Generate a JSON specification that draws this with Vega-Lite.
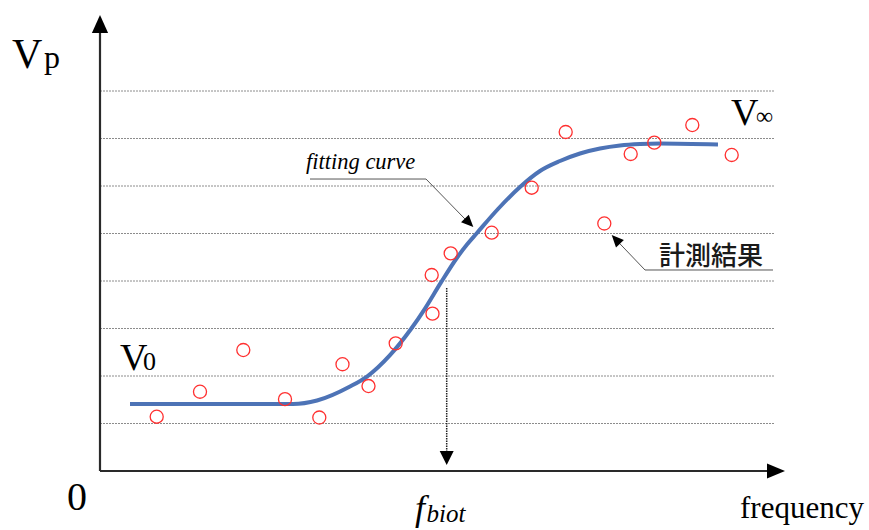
{
  "$schema": "https://vega.github.io/schema/vega-lite/v6.json",
  "width": 869,
  "height": 530,
  "autosize": {"type": "none"},
  "padding": 0,
  "background": "white",
  "config": {"view": {"stroke": null}},
  "datasets": {
    "grid": [{"level": 1}, {"level": 2}, {"level": 3}, {"level": 4}, {"level": 5}, {"level": 6}, {"level": 7}, {"level": 8}],
    "axes": [
      {"axis": "Vp", "x": 0, "y": 0, "x2": 0, "y2": 9.3},
      {"axis": "frequency", "x": 0, "y": 0, "x2": 67.6, "y2": 0}
    ],
    "curve": [
      {"f": 3.0, "v": 1.411}, {"f": 18.5, "v": 1.411}, {"f": 19.3, "v": 1.411}, {"f": 21.7, "v": 1.484},
      {"f": 25.0, "v": 1.779}, {"f": 26.7, "v": 1.989}, {"f": 29.0, "v": 2.44}, {"f": 31.1, "v": 2.99},
      {"f": 32.5, "v": 3.42}, {"f": 34.1, "v": 3.97}, {"f": 35.7, "v": 4.49}, {"f": 36.7, "v": 4.768},
      {"f": 37.7, "v": 5.011}, {"f": 39.8, "v": 5.516}, {"f": 42.0, "v": 5.979}, {"f": 44.0, "v": 6.316},
      {"f": 46.0, "v": 6.526}, {"f": 48.0, "v": 6.684}, {"f": 50.0, "v": 6.789}, {"f": 52.0, "v": 6.853},
      {"f": 54.0, "v": 6.884}, {"f": 56.0, "v": 6.895}, {"f": 61.8, "v": 6.874}
    ],
    "measured": [
      {"f": 5.67, "v": 1.143}, {"f": 10.0, "v": 1.669}, {"f": 14.33, "v": 2.547}, {"f": 18.5, "v": 1.512},
      {"f": 21.93, "v": 1.126}, {"f": 24.25, "v": 2.248}, {"f": 26.85, "v": 1.789}, {"f": 29.57, "v": 2.688},
      {"f": 33.25, "v": 3.312}, {"f": 33.17, "v": 4.126}, {"f": 35.07, "v": 4.583}, {"f": 39.17, "v": 5.017},
      {"f": 43.17, "v": 5.964}, {"f": 46.57, "v": 7.137}, {"f": 50.43, "v": 5.211}, {"f": 53.07, "v": 6.674},
      {"f": 55.43, "v": 6.912}, {"f": 59.23, "v": 7.284}, {"f": 63.17, "v": 6.653}
    ],
    "leaders": [
      {"leader": "fitting", "seq": 1, "x": 21.0, "y": 6.147},
      {"leader": "fitting", "seq": 2, "x": 32.6, "y": 6.147},
      {"leader": "fitting", "seq": 3, "x": 36.8, "y": 5.24},
      {"leader": "measured", "seq": 1, "x": 67.3, "y": 4.232},
      {"leader": "measured", "seq": 2, "x": 54.5, "y": 4.232},
      {"leader": "measured", "seq": 3, "x": 51.6, "y": 4.87}
    ],
    "biot": [{"f": 34.67, "top": 3.853, "bottom": 0.42, "tip": 0.126}],
    "heads": [
      {"head": "yaxis", "x": 0, "y": 9.6},
      {"head": "xaxis", "x": 68.5, "y": 0},
      {"head": "fitting", "x": 37.33, "y": 5.137},
      {"head": "measured", "x": 51.17, "y": 4.968}
    ],
    "labels": [
      {"role": "big", "text": "V", "x": -8.8, "y": 8.484},
      {"role": "p", "text": "p", "x": -5.6, "y": 8.484},
      {"role": "vmid", "text": "V", "x": 63.1, "y": 7.284},
      {"role": "inf", "text": "∞", "x": 65.6, "y": 7.305},
      {"role": "vmid", "text": "V", "x": 2.0, "y": 2.126},
      {"role": "zero", "text": "0", "x": 4.3, "y": 2.126},
      {"role": "origin", "text": "0", "x": -2.3, "y": -0.821},
      {"role": "freq", "text": "frequency", "x": 64.0, "y": -0.989},
      {"role": "fbig", "text": "f", "x": 31.5, "y": -1.032},
      {"role": "fsub", "text": "biot", "x": 32.65, "y": -1.074},
      {"role": "fit", "text": "fitting curve", "x": 20.6, "y": 6.358},
      {"role": "jp", "text": "計測結果", "x": 55.9, "y": 4.337}
    ]
  },
  "encoding": {},
  "layer": [
    {
      "data": {"name": "grid"},
      "mark": {"type": "rule", "color": "#8c8c8c", "strokeWidth": 1, "strokeDash": [2, 1]},
      "encoding": {
        "y": {"field": "level", "type": "quantitative", "scale": {"domain": [-1.242, 9.916], "nice": false, "zero": false}, "axis": null},
        "x": {"datum": 0, "type": "quantitative", "scale": {"domain": [-10, 76.9], "nice": false, "zero": false}, "axis": null},
        "x2": {"datum": 67.5}
      }
    },
    {
      "data": {"name": "axes"},
      "mark": {"type": "rule", "color": "#2a2a2a", "strokeWidth": 2.2},
      "encoding": {
        "x": {"field": "x", "type": "quantitative"},
        "x2": {"field": "x2"},
        "y": {"field": "y", "type": "quantitative"},
        "y2": {"field": "y2"}
      }
    },
    {
      "data": {"name": "biot"},
      "mark": {"type": "rule", "color": "#222222", "strokeWidth": 1.5, "strokeDash": [1.5, 1]},
      "encoding": {
        "x": {"field": "f", "type": "quantitative"},
        "y": {"field": "top", "type": "quantitative"},
        "y2": {"field": "bottom"}
      }
    },
    {
      "data": {"name": "biot"},
      "mark": {"type": "point", "shape": "M0,0L-1,-0.5L-1,0.5Z", "filled": true, "color": "#000000", "opacity": 1, "size": 784, "angle": 90},
      "encoding": {
        "x": {"field": "f", "type": "quantitative"},
        "y": {"field": "tip", "type": "quantitative"}
      }
    },
    {
      "data": {"name": "leaders"},
      "mark": {"type": "line", "color": "#555555", "strokeWidth": 1},
      "encoding": {
        "x": {"field": "x", "type": "quantitative"},
        "y": {"field": "y", "type": "quantitative"},
        "detail": {"field": "leader"},
        "order": {"field": "seq"}
      }
    },
    {
      "data": {"name": "curve"},
      "mark": {"type": "line", "color": "#4d73b6", "strokeWidth": 4, "interpolate": "monotone"},
      "encoding": {
        "x": {"field": "f", "type": "quantitative"},
        "y": {"field": "v", "type": "quantitative"}
      }
    },
    {
      "data": {"name": "measured"},
      "mark": {"type": "point", "shape": "circle", "filled": false, "color": "#ff3030", "strokeWidth": 1.3, "size": 170, "opacity": 1},
      "encoding": {
        "x": {"field": "f", "type": "quantitative"},
        "y": {"field": "v", "type": "quantitative"}
      }
    },
    {
      "data": {"name": "heads"},
      "transform": [{"filter": "datum.head === 'yaxis'"}],
      "mark": {"type": "point", "shape": "M0,0L-1,-0.45L-1,0.45Z", "filled": true, "color": "#000000", "opacity": 1, "size": 1296, "angle": 270},
      "encoding": {"x": {"field": "x", "type": "quantitative"}, "y": {"field": "y", "type": "quantitative"}}
    },
    {
      "data": {"name": "heads"},
      "transform": [{"filter": "datum.head === 'xaxis'"}],
      "mark": {"type": "point", "shape": "M0,0L-1,-0.42L-1,0.42Z", "filled": true, "color": "#000000", "opacity": 1, "size": 1296, "angle": 0},
      "encoding": {"x": {"field": "x", "type": "quantitative"}, "y": {"field": "y", "type": "quantitative"}}
    },
    {
      "data": {"name": "heads"},
      "transform": [{"filter": "datum.head === 'fitting'"}],
      "mark": {"type": "point", "shape": "M0,0L-1,-0.45L-1,0.45Z", "filled": true, "color": "#000000", "opacity": 1, "size": 576, "angle": 45.6},
      "encoding": {"x": {"field": "x", "type": "quantitative"}, "y": {"field": "y", "type": "quantitative"}}
    },
    {
      "data": {"name": "heads"},
      "transform": [{"filter": "datum.head === 'measured'"}],
      "mark": {"type": "point", "shape": "M0,0L-1,-0.45L-1,0.45Z", "filled": true, "color": "#000000", "opacity": 1, "size": 576, "angle": 226.7},
      "encoding": {"x": {"field": "x", "type": "quantitative"}, "y": {"field": "y", "type": "quantitative"}}
    },
    {
      "data": {"name": "labels"},
      "transform": [{"filter": "datum.role === 'big'"}],
      "mark": {"type": "text", "font": "Liberation Serif", "fontSize": 42, "align": "left", "baseline": "alphabetic", "color": "#000000"},
      "encoding": {"x": {"field": "x", "type": "quantitative"}, "y": {"field": "y", "type": "quantitative"}, "text": {"field": "text"}}
    },
    {
      "data": {"name": "labels"},
      "transform": [{"filter": "datum.role === 'p'"}],
      "mark": {"type": "text", "font": "Liberation Serif", "fontSize": 32, "align": "left", "baseline": "alphabetic", "color": "#000000"},
      "encoding": {"x": {"field": "x", "type": "quantitative"}, "y": {"field": "y", "type": "quantitative"}, "text": {"field": "text"}}
    },
    {
      "data": {"name": "labels"},
      "transform": [{"filter": "datum.role === 'vmid'"}],
      "mark": {"type": "text", "font": "Liberation Serif", "fontSize": 38, "align": "left", "baseline": "alphabetic", "color": "#000000"},
      "encoding": {"x": {"field": "x", "type": "quantitative"}, "y": {"field": "y", "type": "quantitative"}, "text": {"field": "text"}}
    },
    {
      "data": {"name": "labels"},
      "transform": [{"filter": "datum.role === 'inf'"}],
      "mark": {"type": "text", "font": "Liberation Serif", "fontSize": 24, "align": "left", "baseline": "alphabetic", "color": "#000000"},
      "encoding": {"x": {"field": "x", "type": "quantitative"}, "y": {"field": "y", "type": "quantitative"}, "text": {"field": "text"}}
    },
    {
      "data": {"name": "labels"},
      "transform": [{"filter": "datum.role === 'zero'"}],
      "mark": {"type": "text", "font": "Liberation Serif", "fontSize": 26, "align": "left", "baseline": "alphabetic", "color": "#000000"},
      "encoding": {"x": {"field": "x", "type": "quantitative"}, "y": {"field": "y", "type": "quantitative"}, "text": {"field": "text"}}
    },
    {
      "data": {"name": "labels"},
      "transform": [{"filter": "datum.role === 'origin'"}],
      "mark": {"type": "text", "font": "Liberation Serif", "fontSize": 40, "align": "center", "baseline": "alphabetic", "color": "#000000"},
      "encoding": {"x": {"field": "x", "type": "quantitative"}, "y": {"field": "y", "type": "quantitative"}, "text": {"field": "text"}}
    },
    {
      "data": {"name": "labels"},
      "transform": [{"filter": "datum.role === 'freq'"}],
      "mark": {"type": "text", "font": "Liberation Serif", "fontSize": 31, "align": "left", "baseline": "alphabetic", "color": "#000000"},
      "encoding": {"x": {"field": "x", "type": "quantitative"}, "y": {"field": "y", "type": "quantitative"}, "text": {"field": "text"}}
    },
    {
      "data": {"name": "labels"},
      "transform": [{"filter": "datum.role === 'fbig'"}],
      "mark": {"type": "text", "font": "Liberation Serif", "fontStyle": "italic", "fontSize": 36, "align": "left", "baseline": "alphabetic", "color": "#000000"},
      "encoding": {"x": {"field": "x", "type": "quantitative"}, "y": {"field": "y", "type": "quantitative"}, "text": {"field": "text"}}
    },
    {
      "data": {"name": "labels"},
      "transform": [{"filter": "datum.role === 'fsub'"}],
      "mark": {"type": "text", "font": "Liberation Serif", "fontStyle": "italic", "fontSize": 25, "align": "left", "baseline": "alphabetic", "color": "#000000"},
      "encoding": {"x": {"field": "x", "type": "quantitative"}, "y": {"field": "y", "type": "quantitative"}, "text": {"field": "text"}}
    },
    {
      "data": {"name": "labels"},
      "transform": [{"filter": "datum.role === 'fit'"}],
      "mark": {"type": "text", "font": "Liberation Serif", "fontStyle": "italic", "fontSize": 22.5, "align": "left", "baseline": "alphabetic", "color": "#000000"},
      "encoding": {"x": {"field": "x", "type": "quantitative"}, "y": {"field": "y", "type": "quantitative"}, "text": {"field": "text"}}
    },
    {
      "data": {"name": "labels"},
      "transform": [{"filter": "datum.role === 'jp'"}],
      "mark": {"type": "text", "font": "Noto Sans CJK JP", "fontSize": 26, "fontWeight": 500, "align": "left", "baseline": "alphabetic", "color": "#1a1a1a"},
      "encoding": {"x": {"field": "x", "type": "quantitative"}, "y": {"field": "y", "type": "quantitative"}, "text": {"field": "text"}}
    }
  ]
}
